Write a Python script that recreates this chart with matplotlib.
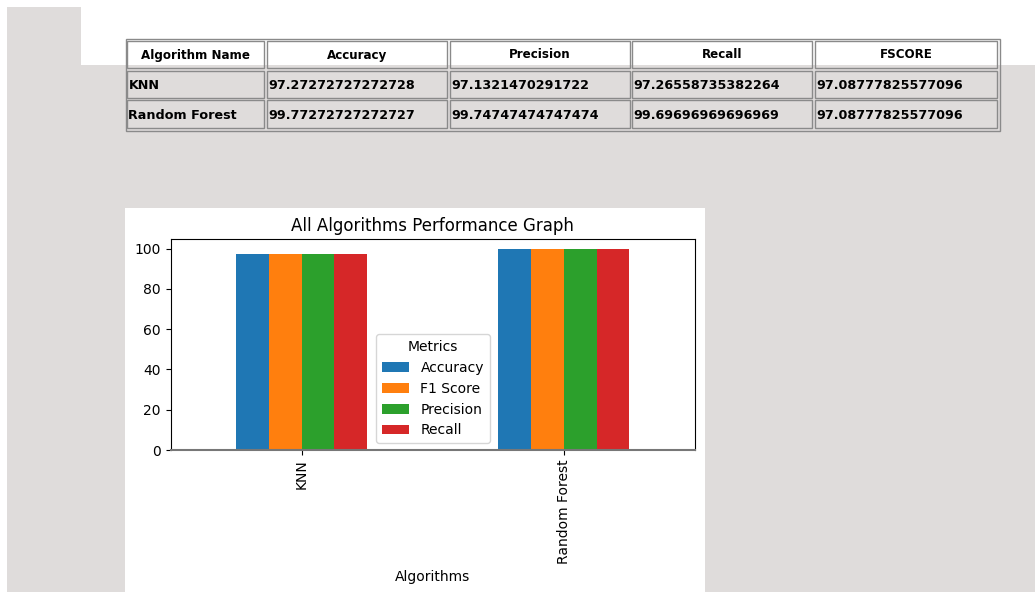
import matplotlib
matplotlib.use("Agg")
import matplotlib.pyplot as plt
from matplotlib.patches import Rectangle
import numpy as np

# ---------------- data ----------------
algorithms = ["KNN", "Random Forest"]
metrics = ["Accuracy", "F1 Score", "Precision", "Recall"]
accuracy = [97.27272727272728, 99.77272727272727]
f1_score = [97.08777825577096, 99.72]
precision = [97.1321470291722, 99.74747474747474]
recall = [97.26558735382264, 99.69696969696969]

table_header = ["Algorithm Name", "Accuracy", "Precision", "Recall", "FSCORE"]
table_rows = [
    ["KNN", "97.27272727272728", "97.1321470291722", "97.26558735382264", "97.08777825577096"],
    ["Random Forest", "99.77272727272727", "99.74747474747474", "99.69696969696969", "97.08777825577096"],
]

colors = ["#1f77b4", "#ff7f0e", "#2ca02c", "#d62728"]

W, H = 1035, 592
fig = plt.figure(figsize=(W / 100, H / 100), dpi=100)
fig.patch.set_facecolor("white")

GRAY = "#dfdcdb"


def rect(x0, y0, x1, y1, z=-5, **kw):
    r = Rectangle((x0 / W, 1 - y1 / H), (x1 - x0) / W, (y1 - y0) / H,
                  transform=fig.transFigure, zorder=z, **kw)
    fig.patches.append(r)
    return r


# page background
rect(7, 65, W, H, facecolor=GRAY, edgecolor="none")
rect(7, 7, 81, 65, facecolor=GRAY, edgecolor="none")

# ---------------- table ----------------
rect(125.5, 38.5, 999.5, 130.5, z=-4, facecolor="none", edgecolor="#8a8a8a", lw=1.0)
col_edges = [(127, 264), (267, 447), (449.5, 630), (632, 812.5), (815, 997)]
row_edges = [(40.5, 67.5), (70.5, 97.5), (100.5, 128)]
tfont = dict(family="DejaVu Sans", fontweight="bold", fontsize=9.2, color="black")
for ri, (y0, y1) in enumerate(row_edges):
    for ci, (x0, x1) in enumerate(col_edges):
        rect(x0, y0, x1, y1, z=-4, facecolor="none", edgecolor="#8a8a8a", lw=1.0)
        yc = 1 - ((y0 + y1) / 2 + 1) / H
        if ri == 0:
            fig.text(((x0 + x1) / 2) / W, yc, table_header[ci], ha="center", va="center",
                     **{**tfont, "fontsize": 8.6})
        else:
            fig.text((x0 + 1.5) / W, yc, table_rows[ri - 1][ci], ha="left", va="center", **tfont)

# ---------------- chart ----------------
rect(125, 208, 705, H, facecolor="white", edgecolor="none")

ax_l, ax_r, ax_t, ax_b = 170.5, 695, 239, 450
ax = fig.add_axes([ax_l / W, 1 - ax_b / H, (ax_r - ax_l) / W, (ax_b - ax_t) / H])
ax.set_zorder(2)

series = [accuracy, f1_score, precision, recall]
x = np.arange(len(algorithms))
bw = 0.125
for i, (name, vals) in enumerate(zip(metrics, series)):
    ax.bar(x + (i - 1.5) * bw, vals, width=bw, color=colors[i], label=name)

ax.set_xlim(-0.5, 1.5)
ax.set_ylim(0, max(max(s) for s in series) * 1.05)
ax.set_xticks(x)
ax.set_xticklabels(algorithms, rotation=90)
ax.set_yticks([0, 20, 40, 60, 80, 100])
ax.set_title("All Algorithms Performance Graph", fontsize=12)
ax.set_xlabel("Algorithms")
ax.spines["bottom"].set_color("#777777")
ax.spines["bottom"].set_linewidth(1.5)
leg = ax.legend(title="Metrics", loc="lower center", bbox_to_anchor=(0.5, 0.0))

fig.savefig("out.png", dpi=100, facecolor=fig.get_facecolor())
